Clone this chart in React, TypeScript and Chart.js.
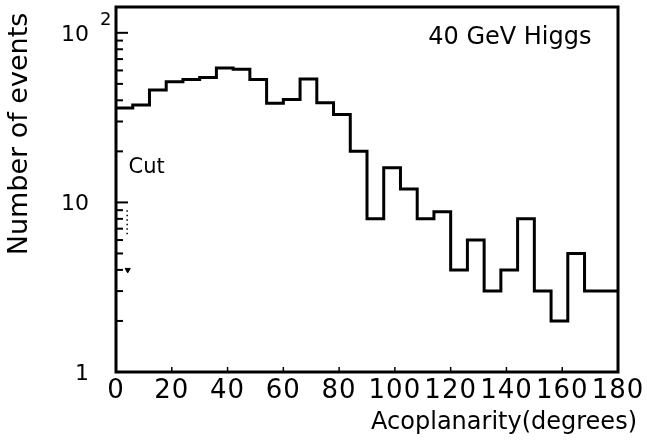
import React, { useEffect, useRef } from "react";
import { Chart, registerables } from "chart.js";

Chart.register(...registerables);

// Histogram bins (left edges, degrees) and event counts
const binLeftEdges = [0, 6, 12, 18, 24, 30, 36, 42, 48, 54, 60, 66, 72, 78, 84, 90, 96, 102, 108, 114, 120, 126, 132, 138, 144, 150, 156, 162, 168, 174];
const binCounts = [36, 37.5, 46, 51.5, 53, 54.5, 62, 61, 53, 38.5, 40.5, 53.5, 38.7, 33, 20, 8, 16, 12, 8, 8.8, 4, 6, 3, 4, 8, 3, 2, 5, 3, 3];
const xMax = 180;

// Axis ticks
const xTickValues = [0, 20, 40, 60, 80, 100, 120, 140, 160, 180];
const yMajorTicks = [1, 10, 100];
const yTickLabels = ["1", "10", "10"];
const yTickExponents = ["", "", "2"];
const yMinorTicks = [2, 3, 4, 5, 6, 7, 8, 9, 20, 30, 40, 50, 60, 70, 80, 90];

// "Cut" marker (dotted line and arrow)
const cutLineX = [4, 4];
const cutLineY = [9, 6.5];
const cutArrow = { x: 4.2, y: 4 };

// Annotations
const annoText = "40 GeV Higgs";
const cutText = "Cut";
const xTitle = "Acoplanarity(degrees)";
const yTitle = "Number of events";

const FONT = '"DejaVu Sans", sans-serif';

const spacingPlugin = {
  id: "spacing",
  beforeDraw(chart: any) {
    (chart.ctx as any).letterSpacing = "1px";
  },
};

const decorPlugin = {
  id: "decor",
  afterDatasetsDraw(chart: any) {
    const { ctx, chartArea: a, scales } = chart;
    const x = scales.x;
    const y = scales.y;
    ctx.save();
    (ctx as any).letterSpacing = "0px";
    ctx.strokeStyle = "#000";
    ctx.fillStyle = "#000";
    // frame
    ctx.lineWidth = 3;
    ctx.strokeRect(a.left, a.top, a.right - a.left, a.bottom - a.top);
    const line = (x1: number, y1: number, x2: number, y2: number) => {
      ctx.beginPath();
      ctx.moveTo(x1, y1);
      ctx.lineTo(x2, y2);
      ctx.stroke();
    };
    // inward ticks on y
    ctx.lineWidth = 2;
    for (const v of yMajorTicks) {
      const py = y.getPixelForValue(v);
      line(a.left, py, a.left + 12, py);
    }
    for (const v of yMinorTicks) {
      const py = y.getPixelForValue(v);
      line(a.left, py, a.left + 7, py);
    }
    ctx.lineWidth = 1.5;
    for (const v of xTickValues) {
      const px = x.getPixelForValue(v);
      line(px, a.bottom, px, a.bottom - 5);
    }
    // y tick labels (with exponent)
    yMajorTicks.forEach((v, i) => {
      const py = y.getPixelForValue(v) + 2;
      ctx.font = `22px ${FONT}`;
      ctx.textAlign = "right";
      ctx.textBaseline = "middle";
      ctx.fillText(yTickLabels[i], a.left - 27, py);
      if (yTickExponents[i]) {
        ctx.font = `18px ${FONT}`;
        ctx.textAlign = "left";
        ctx.fillText(yTickExponents[i], a.left - 16, py - 14);
      }
    });
    // annotations
    ctx.font = `24px ${FONT}`;
    ctx.textAlign = "right";
    ctx.textBaseline = "middle";
    ctx.fillText(annoText, x.getPixelForValue(170.5), y.getPixelForValue(93));
    ctx.font = `21px ${FONT}`;
    ctx.textAlign = "left";
    ctx.fillText(cutText, x.getPixelForValue(4.5), y.getPixelForValue(16));
    // axis titles
    ctx.font = `24px ${FONT}`;
    ctx.textAlign = "right";
    ctx.textBaseline = "alphabetic";
    ctx.fillText(xTitle, 637, 429);
    ctx.translate(20, 134);
    ctx.rotate(-Math.PI / 2);
    ctx.font = `27px ${FONT}`;
    ctx.textAlign = "center";
    ctx.textBaseline = "middle";
    ctx.fillText(yTitle, 0, 0);
    ctx.restore();
  },
};

export default function App() {
  const canvasRef = useRef<HTMLCanvasElement | null>(null);

  useEffect(() => {
    const canvas = canvasRef.current;
    if (!canvas) return;
    const histPoints = binLeftEdges.map((e, i) => ({ x: e, y: binCounts[i] }));
    histPoints.push({ x: xMax, y: binCounts[binCounts.length - 1] });

    const chart = new Chart(canvas, {
      type: "line",
      data: {
        datasets: [
          {
            data: histPoints,
            stepped: "before",
            borderColor: "#000",
            borderWidth: 3,
            pointRadius: 0,
            fill: false,
            tension: 0,
          } as any,
          {
            data: cutLineX.map((v, i) => ({ x: v, y: cutLineY[i] })),
            borderColor: "#000",
            borderWidth: 1.5,
            borderDash: [1.5, 3],
            pointRadius: 0,
            fill: false,
          },
          {
            data: [cutArrow],
            showLine: false,
            pointStyle: "triangle",
            rotation: 180,
            pointRadius: 3,
            backgroundColor: "#000",
            borderColor: "#000",
          } as any,
        ],
      },
      options: {
        responsive: false,
        animation: false,
        events: [],
        layout: { padding: { left: 0, top: 7, right: 29, bottom: 0 } },
        plugins: { legend: { display: false }, tooltip: { enabled: false } },
        scales: {
          x: {
            type: "linear",
            min: 0,
            max: xMax,
            afterBuildTicks: (s: any) => {
              s.ticks = xTickValues.map((v) => ({ value: v }));
            },
            afterFit: (s: any) => {
              s.height = 72;
              s.paddingLeft = 0;
              s.paddingRight = 0;
            },
            grid: { display: false, drawTicks: false },
            border: { display: false },
            ticks: {
              autoSkip: false,
              maxRotation: 0,
              minRotation: 0,
              padding: 4,
              color: "#000",
              font: { family: FONT, size: 26 },
            },
          },
          y: {
            type: "logarithmic",
            min: 1,
            max: 142,
            afterBuildTicks: (s: any) => {
              s.ticks = [...yMajorTicks, ...yMinorTicks]
                .sort((p, q) => p - q)
                .map((v) => ({ value: v }));
            },
            afterFit: (s: any) => {
              s.width = 116;
              s.paddingTop = 0;
              s.paddingBottom = 0;
            },
            grid: { display: false, drawTicks: false },
            border: { display: false },
            ticks: { display: false, autoSkip: false },
          },
        },
      },
      plugins: [spacingPlugin, decorPlugin],
    });
    return () => chart.destroy();
  }, []);

  return (
    <div style={{ position: "absolute", left: 0, top: 0, width: 647, height: 444, background: "#fff" }}>
      <canvas ref={canvasRef} width={647} height={444} style={{ display: "block" }} />
    </div>
  );
}
